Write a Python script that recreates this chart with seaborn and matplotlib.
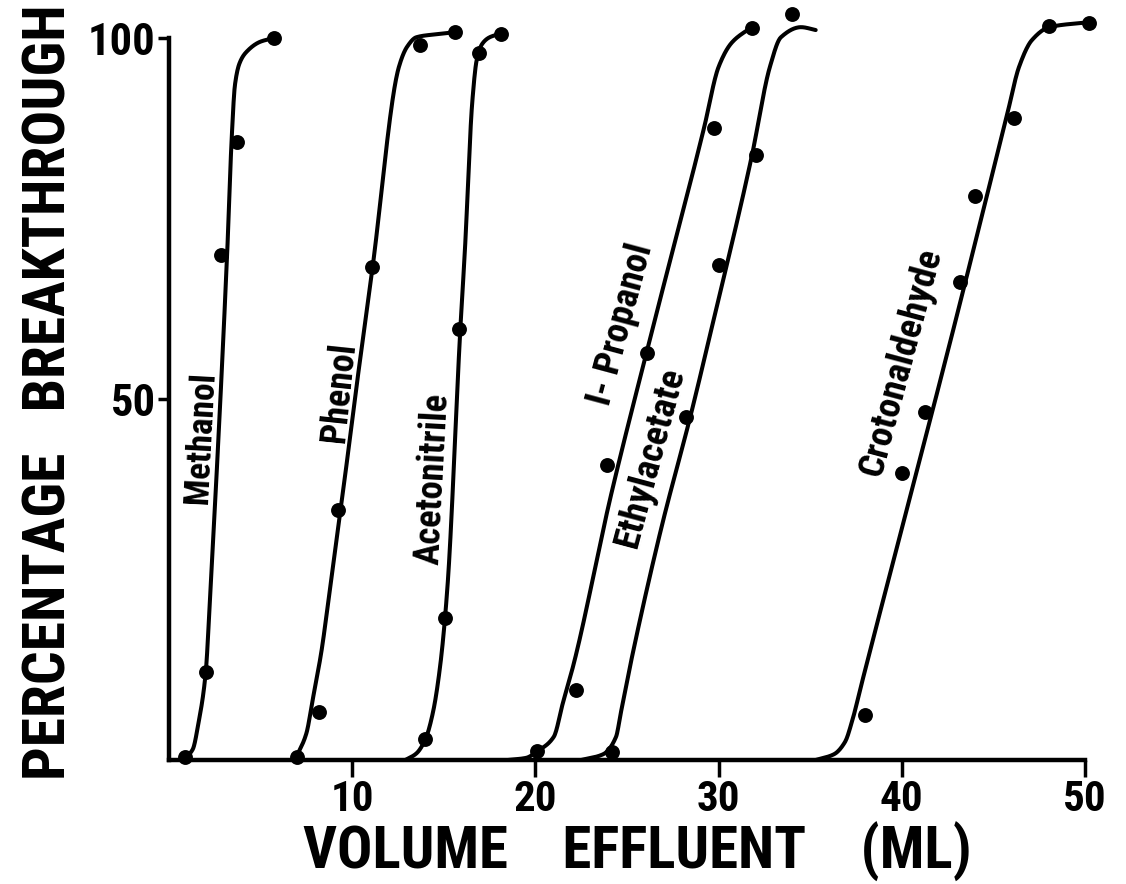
import numpy as np
import pandas as pd
import matplotlib
matplotlib.use("Agg")
import matplotlib.pyplot as plt
import seaborn as sns
from matplotlib import font_manager

# ---------------- data ----------------
compounds = ["Methanol", "Phenol", "Acetonitrile", "I- Propanol", "Ethylacetate", "Crotonaldehyde"]

# measured points (volume effluent mL, % breakthrough)
methanol_x = [0.9, 2.0, 2.85, 3.7, 5.75]
methanol_y = [0.4, 12.2, 70.0, 85.6, 100.0]
phenol_x = [7.0, 8.2, 9.2, 11.07, 13.7, 15.6]
phenol_y = [0.4, 6.6, 34.6, 68.3, 99.0, 100.8]
acetonitrile_x = [14.0, 15.07, 15.85, 16.9, 18.1]
acetonitrile_y = [2.9, 19.7, 59.7, 97.9, 100.5]
propanol_x = [20.1, 22.2, 23.9, 26.1, 29.75, 31.8]
propanol_y = [1.2, 9.7, 40.9, 56.4, 87.5, 101.4]
ethyl_x = [24.2, 28.2, 30.0, 32.05, 34.0]
ethyl_y = [1.1, 47.5, 68.6, 83.8, 103.3]
croton_x = [37.97, 40.0, 41.26, 43.2, 44.0, 46.1, 48.05, 50.2]
croton_y = [6.2, 39.8, 48.2, 66.2, 78.1, 88.9, 101.7, 102.1]

# hand-drawn fitted curves, knots
methanol_curve_x = [0.9, 1.3, 1.6, 2.0, 2.25, 3.18, 3.42, 3.6, 3.85, 4.2, 5.0, 5.75]
methanol_curve_y = [0.3, 1.5, 5.0, 12.0, 23.0, 70.5, 86.0, 93.5, 96.5, 98.0, 99.5, 100.0]
phenol_curve_x = [6.95, 7.5, 7.84, 8.33, 8.7, 9.42, 10.25, 11.1, 12.55, 13.0, 13.5, 14.5, 15.6]
phenol_curve_y = [0.4, 3.7, 8.3, 15.2, 22.0, 35.6, 52.0, 68.0, 96.0, 98.8, 100.1, 100.5, 100.8]
acetonitrile_curve_x = [12.9, 13.5, 14.0, 14.4, 14.8, 15.2, 15.9, 16.16, 16.55, 16.8, 17.1, 17.5, 18.1]
acetonitrile_curve_y = [0.0, 0.9, 2.9, 6.5, 13.0, 24.0, 59.6, 71.0, 91.0, 97.0, 99.2, 100.1, 100.6]
propanol_curve_x = [18.5, 19.5, 20.1, 21.0, 21.5, 22.1, 24.1, 26.1, 29.2, 30.0, 30.7, 31.4, 31.8]
propanol_curve_y = [0.0, 0.3, 1.2, 3.2, 7.9, 13.4, 36.4, 56.8, 87.5, 96.0, 99.3, 100.8, 101.4]
ethyl_curve_x = [22.5, 23.7, 24.4, 24.66, 25.2, 26.85, 28.5, 29.6, 31.8, 32.8, 33.4, 34.5, 35.3]
ethyl_curve_y = [0.0, 0.8, 3.2, 6.5, 13.4, 31.9, 48.0, 59.6, 83.5, 96.0, 100.1, 101.5, 101.1]
croton_curve_x = [35.3, 36.3, 36.9, 37.3, 37.8, 42.85, 45.75, 46.4, 47.1, 48.05, 50.25]
croton_curve_y = [0.0, 0.8, 2.5, 5.5, 10.5, 60.0, 89.4, 96.0, 99.7, 101.5, 102.2]

# curve label anchors (data coords), angles and lengths (px)
label_x = [1.75, 9.3, 14.4, 24.65, 26.3, 40.0]
label_y = [44.6, 51.0, 39.0, 60.4, 42.0, 55.1]
label_rot = [87, 84, 87, 75, 75, 75]
label_len = [132, 100, 172, 165, 185, 234]

x_ticks = [10, 20, 30, 40, 50]
y_ticks = [50, 100]
x_label = "VOLUME    EFFLUENT    (ML)"
y_label = "PERCENTAGE   BREAKTHROUGH"


def pchip(xk, yk, xs):
    xk = np.asarray(xk, float)
    yk = np.asarray(yk, float)
    h = np.diff(xk)
    d = np.diff(yk) / h
    n = len(xk)
    m = np.zeros(n)
    for k in range(1, n - 1):
        if d[k - 1] * d[k] <= 0:
            m[k] = 0.0
        else:
            w1 = 2 * h[k] + h[k - 1]
            w2 = h[k] + 2 * h[k - 1]
            m[k] = (w1 + w2) / (w1 / d[k - 1] + w2 / d[k])
    m[0] = d[0]
    m[-1] = d[-1]
    idx = np.clip(np.searchsorted(xk, xs) - 1, 0, n - 2)
    t = (xs - xk[idx]) / h[idx]
    h00 = 2 * t**3 - 3 * t**2 + 1
    h10 = t**3 - 2 * t**2 + t
    h01 = -2 * t**3 + 3 * t**2
    h11 = t**3 - t**2
    return (h00 * yk[idx] + h10 * h[idx] * m[idx]
            + h01 * yk[idx + 1] + h11 * h[idx] * m[idx + 1])


pts = [(methanol_x, methanol_y), (phenol_x, phenol_y), (acetonitrile_x, acetonitrile_y),
       (propanol_x, propanol_y), (ethyl_x, ethyl_y), (croton_x, croton_y)]
curves = [(methanol_curve_x, methanol_curve_y), (phenol_curve_x, phenol_curve_y),
          (acetonitrile_curve_x, acetonitrile_curve_y), (propanol_curve_x, propanol_curve_y),
          (ethyl_curve_x, ethyl_curve_y), (croton_curve_x, croton_curve_y)]

points_df = pd.concat([pd.DataFrame({"x": px, "y": py, "compound": c})
                       for (px, py), c in zip(pts, compounds)], ignore_index=True)
curve_frames = []
for (cx, cy), c in zip(curves, compounds):
    xs = np.linspace(cx[0], cx[-1], 400)
    curve_frames.append(pd.DataFrame({"x": xs, "y": pchip(cx, cy, xs), "compound": c}))
curves_df = pd.concat(curve_frames, ignore_index=True)

# ---------------- styling ----------------
sns.set_theme(style="ticks")
available = {f.name for f in font_manager.fontManager.ttflist}
FAM = ["Liberation Sans", "DejaVu Sans"]
for cand in ["Liberation Sans Narrow", "Roboto Condensed", "Open Sans Condensed"]:
    if cand in available:
        FAM = [cand, "DejaVu Sans"]
        break
plt.rcParams["font.family"] = FAM

fig = plt.figure(figsize=(11.26, 8.84), dpi=100)
ax = fig.add_axes([169 / 1126, (884 - 760) / 884, (1085 - 169) / 1126, (760 - 38) / 884])
ax.set_facecolor("white")
fig.patch.set_facecolor("white")

sns.lineplot(data=curves_df, x="x", y="y", units="compound", estimator=None, sort=False,
             color="black", linewidth=2.9, ax=ax, clip_on=False, zorder=2)
sns.scatterplot(data=points_df, x="x", y="y", color="black", s=115, linewidth=0,
                ax=ax, clip_on=False, zorder=3, legend=False)

curve_texts = []
for name, lx, ly, rot in zip(compounds, label_x, label_y, label_rot):
    curve_texts.append(ax.text(lx, ly, name, rotation=rot, rotation_mode="anchor",
                               ha="center", va="center", fontsize=22,
                               fontweight="bold", color="black", family=FAM))

ax.set_xlim(0, 50)
ax.set_ylim(0, 100)
ax.set_xticks(x_ticks)
ax.set_yticks(y_ticks)
ax.set_xticklabels([str(v) for v in x_ticks])
ax.set_yticklabels([str(v) for v in y_ticks])
for s in ["top", "right"]:
    ax.spines[s].set_visible(False)
for s in ["left", "bottom"]:
    ax.spines[s].set_linewidth(3.2)
    ax.spines[s].set_color("black")
ax.tick_params(axis="x", length=12, width=2.5, direction="out", colors="black",
               labelsize=31, pad=2)
ax.tick_params(axis="y", length=8, width=2.5, direction="out", colors="black",
               labelsize=32, pad=1.5)
for lab in ax.get_xticklabels() + ax.get_yticklabels():
    lab.set_fontweight("bold")

ax.set_xlabel(x_label, fontsize=38, fontweight="bold", color="black")
ax.set_ylabel(y_label, fontsize=35, fontweight="bold", color="black")
ax.xaxis.label.set_va("baseline")
ax.yaxis.label.set_va("center")
ax.xaxis.set_label_coords(0.511, (760 - 869) / 722)
ax.yaxis.set_label_coords(-0.131, 0.51)
ax.grid(False)


def fit_length(t, target_px):
    r = fig.canvas.get_renderer()
    rot = t.get_rotation()
    t.set_rotation(0)
    w = t.get_window_extent(r).width
    t.set_rotation(rot)
    t.set_fontsize(t.get_fontsize() * target_px / w)


fig.canvas.draw()
for t, L in zip(curve_texts, label_len):
    fit_length(t, L)
fit_length(ax.xaxis.label, 668)
fit_length(ax.yaxis.label, 775)

fig.savefig("out.png", dpi=100)
